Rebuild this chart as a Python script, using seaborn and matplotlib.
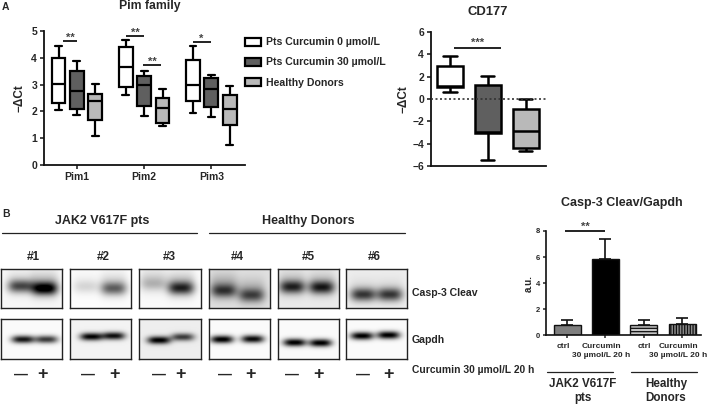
import numpy as np
import pandas as pd
import seaborn as sns
import matplotlib
matplotlib.use('Agg')
import matplotlib.pyplot as plt
from matplotlib.transforms import ScaledTranslation

# five number summaries: whisker, box, median, box, whisker
pim1_pts0 = [2.06, 2.31, 3.02, 4.00, 4.44]
pim1_pts30 = [1.88, 2.09, 2.76, 3.51, 3.89]
pim1_hd = [1.07, 1.68, 2.39, 2.65, 3.01]
pim2_pts0 = [2.61, 2.90, 3.67, 4.40, 4.68]
pim2_pts30 = [1.83, 2.19, 3.00, 3.31, 3.52]
pim2_hd = [1.47, 1.57, 2.11, 2.50, 2.85]
pim3_pts0 = [1.95, 2.39, 3.00, 3.93, 4.43]
pim3_pts30 = [1.80, 2.15, 2.84, 3.26, 3.37]
pim3_hd = [0.73, 1.49, 2.08, 2.60, 2.95]
cd177_pts0 = [0.66, 1.05, 1.15, 2.99, 3.82]
cd177_pts30 = [-5.43, -3.07, -3.00, 1.22, 2.03]
cd177_hd = [-4.63, -4.36, -2.84, -0.93, 0.03]

pim_genes = ['Pim1', 'Pim2', 'Pim3']
groups = ['Pts Curcumin 0 µmol/L', 'Pts Curcumin 30 µmol/L', 'Healthy Donors']
group_colors = ['white', '#5f5f5f', '#b9b9b9']

bar_names = ['a', 'b', 'c', 'd']
bar_labels = ['ctrl', 'Curcumin\n30 µmol/L 20 h', 'ctrl', 'Curcumin\n30 µmol/L 20 h']
bar_values = [0.79, 5.88, 0.79, 0.87]
bar_errors = [0.36, 1.54, 0.36, 0.43]
bar_colors = ['#7f7f7f', 'black', '#c4c4c4', '#8a8a8a']

# blot bands per patient: minus lane, plus lane
casp_x = [(.32, .72), (.26, .72), (.23, .68), (.24, .70), (.23, .72), (.28, .72)]
casp_y = [(.44, .50), (.45, .50), (.38, .49), (.56, .68), (.46, .47), (.66, .66)]
casp_peak = [(.62, .90), (.12, .50), (.17, .68), (.50, .48), (.68, .72), (.66, .66)]
casp_haze = [(.10, .24), (.04, .15), (.14, .22), (.24, .20), (.15, .15), (.08, .08)]
casp_bg = [.03, .01, .02, .12, .08, .07]
gapdh_x = [(.36, .75), (.35, .72), (.32, .71), (.21, .72), (.27, .70), (.26, .70)]
gapdh_y = [(.51, .51), (.44, .42), (.53, .45), (.51, .50), (.59, .60), (.42, .40)]
gapdh_peak = [(.90, .75), (.95, .90), (.95, .70), (1.0, .95), (1.0, 1.0), (1.0, 1.0)]
gapdh_bg = [.02, .05, .07, .02, .02, .02]
patient_labels = ['#1', '#2', '#3', '#4', '#5', '#6']

W, H = 709, 404
plt.rcParams['hatch.linewidth'] = 0.9
sns.set_style('ticks')
plt.rcParams['font.family'] = ['Liberation Sans', 'DejaVu Sans']
plt.rcParams['font.weight'] = 'bold'
plt.rcParams['axes.labelweight'] = 'bold'
plt.rcParams['axes.titleweight'] = 'bold'
plt.rcParams['axes.edgecolor'] = '#111111'

fig = plt.figure(figsize=(W / 100, H / 100), dpi=100)


def px_axes(x0, y0, x1, y1, **kw):
    return fig.add_axes([x0 / W, 1 - y1 / H, (x1 - x0) / W, (y1 - y0) / H], **kw)


def long_table(rows, cats):
    out = []
    for cat, row in zip(cats, rows):
        for grp, vals in zip(groups, row):
            out.append(pd.DataFrame({'cat': cat, 'group': grp, 'val': vals}))
    return pd.concat(out, ignore_index=True)


def sig_bar(ax, x0, x1, y, stars, dy):
    ax.plot([x0, x1], [y, y], color='#111111', lw=1.3, solid_capstyle='butt', clip_on=False)
    ax.text((x0 + x1) / 2, y + dy, stars, ha='center', va='center', fontsize=8, color='#444444')


def style_boxes(ax):
    ax.tick_params(axis='both', width=1.2, length=3, labelsize=7.5, pad=2)
    for side in ['left', 'bottom']:
        ax.spines[side].set_linewidth(1.3)
    ax.set_xlabel('')


# Pim family
ax = px_axes(44, 31, 245, 165)
pim_data = long_table([[pim1_pts0, pim1_pts30, pim1_hd],
                       [pim2_pts0, pim2_pts30, pim2_hd],
                       [pim3_pts0, pim3_pts30, pim3_hd]], pim_genes)
sns.boxplot(data=pim_data, x='cat', y='val', hue='group', palette=group_colors, ax=ax, whis=(0, 100),
            width=0.82, gap=0.25, saturation=1, linecolor='black', linewidth=1.6, showfliers=False)
ax.set_xlim(-0.49, 2.5)
ax.set_ylim(0, 5)
ax.set_yticks(range(6))
ax.set_ylabel('−ΔCt', fontsize=8.5, labelpad=4)
style_boxes(ax)
sns.despine(ax=ax)
sns.move_legend(ax, 'upper left', bbox_to_anchor=(0.98, 0.985), frameon=False, title=None, fontsize=7.6,
                borderaxespad=0, borderpad=0.4, handlelength=1.45, handleheight=0.8, handletextpad=0.55,
                labelspacing=0.97)
sig_bar(ax, -0.21, 0.0, 4.64, '**', 0.12)
sig_bar(ax, 0.73, 1.0, 4.81, '**', 0.12)
sig_bar(ax, 0.99, 1.25, 3.73, '**', 0.12)
sig_bar(ax, 1.72, 1.99, 4.58, '*', 0.12)

# CD177
ax = px_axes(431, 32, 546, 166)
cd_data = long_table([[cd177_pts0, cd177_pts30, cd177_hd]], ['CD177'])
cd_data['cat'] = cd_data['group']
sns.boxplot(data=cd_data, x='cat', y='val', hue='cat', palette=group_colors, ax=ax, whis=(0, 100),
            width=0.69, saturation=1, linecolor='black', linewidth=1.8, showfliers=False, legend=False)
ax.axhline(0, color='#333333', lw=1.2, ls=(0, (1.2, 1.5)), zorder=3)
ax.set_xlim(-0.5, 2.53)
ax.set_ylim(-6, 6)
ax.set_yticks(range(-6, 7, 2))
ax.set_ylabel('−ΔCt', fontsize=8.5, labelpad=2)
style_boxes(ax)
ax.set_xticks([])
sns.despine(ax=ax)
sig_bar(ax, 0.1, 1.34, 4.6, '***', 0.45)

# Casp-3 bars
ax = px_axes(546, 231, 701, 335)
bar_table = pd.DataFrame({'name': bar_names, 'val': bar_values})
sns.barplot(data=bar_table, x='name', y='val', hue='name', palette=bar_colors, width=0.7, saturation=1,
            edgecolor='#111111', linewidth=1, ax=ax, legend=False, errorbar=None)
for patch, hatch in zip(ax.patches, ['', '', '-----', '||||||']):
    patch.set_hatch(hatch)
ax.errorbar(range(4), bar_values, yerr=[[0, 0, 0, 0], bar_errors], fmt='none', ecolor='#111111',
            elinewidth=1.2, capsize=4.5, capthick=1.2)
ax.set_xlim(-0.55, 3.49)
ax.set_ylim(0, 8)
ax.set_yticks(range(0, 9, 2))
ax.set_xticks(range(4))
ax.set_xticklabels(bar_labels, fontsize=6.0, linespacing=1.45)
ax.set_xlabel('')
ax.set_ylabel('a.u.', fontsize=7, labelpad=1)
ax.tick_params(axis='y', width=1.1, length=2.5, labelsize=5.5, pad=2)
ax.tick_params(axis='x', width=1.1, length=2.5, pad=3)
# the labels sit a little left of their ticks, the last one would run off the edge otherwise
for lab, shift in zip(ax.get_xticklabels(), [-4, -4, 0, -4]):
    lab.set_transform(lab.get_transform() + ScaledTranslation(shift / 100, 0, fig.dpi_scale_trans))
ax.spines['left'].set_linewidth(1.2)
ax.spines['bottom'].set_linewidth(1.2)
sns.despine(ax=ax)
sig_bar(ax, -0.05, 0.99, 8.0, '**', 0.35)

# blots
panel_left = [1, 70, 139, 209, 278, 346]
panel_right = [62, 131, 201, 270, 339, 407]


def blot(xs, ys, peaks, bg, shape, sx, sy, haze=None):
    yy, xx = np.mgrid[0:1:shape[0] * 1j, 0:1:shape[1] * 1j]
    grid = np.full(shape, float(bg))
    for i in range(2):
        grid += peaks[i] * np.exp(-(np.abs(xx - xs[i]) / sx) ** 3 - ((yy - ys[i]) / sy) ** 2)
        if haze is not None:
            grid += haze[i] * np.exp(-((xx - xs[i]) / (sx * 1.1)) ** 4 - ((yy - ys[i] + 0.12) / 0.32) ** 2)
    return np.clip(grid, 0, 1)


for i in range(6):
    for top, bottom, row in [(269, 308, 0), (319, 359, 1)]:
        bax = px_axes(panel_left[i], top, panel_right[i], bottom)
        nx, ny = (panel_right[i] - panel_left[i]), bottom - top
        if row == 0:
            grid = blot(casp_x[i], casp_y[i], casp_peak[i], casp_bg[i], (ny, nx), 0.21, 0.17, casp_haze[i])
        else:
            grid = blot(gapdh_x[i], gapdh_y[i], gapdh_peak[i], gapdh_bg[i], (ny, nx), 0.19, 0.10)
        sns.heatmap(grid, cmap='gray_r', vmin=0, vmax=1, cbar=False, ax=bax, xticklabels=False,
                    yticklabels=False, rasterized=True)
        for spine in bax.spines.values():
            spine.set_visible(True)
            spine.set_linewidth(1)
            spine.set_color('#222222')

# text and rules, in picture pixels
over = px_axes(0, 0, W, H, zorder=5)
over.set_xlim(0, W)
over.set_ylim(H, 0)
over.axis('off')
over.patch.set_alpha(0)

over.text(2, 7, 'A', fontsize=7.5, va='center')
over.text(2, 214, 'B', fontsize=7.5, va='center')
over.text(150, 6.5, 'Pim family', fontsize=8.8, ha='center', va='center')
over.text(488, 12, 'CD177', fontsize=9.4, ha='center', va='center')
over.text(622, 203, 'Casp-3 Cleav/Gapdh', fontsize=9, ha='center', va='center')
over.text(102, 221, 'JAK2 V617F pts', fontsize=9, ha='center', va='center')
over.text(308, 221, 'Healthy Donors', fontsize=9, ha='center', va='center')
for x0, x1, y in [(2, 197, 233), (209, 405, 233), (547, 613, 372), (631, 697, 372)]:
    over.plot([x0, x1], [y, y], color='#222222', lw=0.9)
for x, lab in zip([33, 103, 169, 237, 308, 374], patient_labels):
    over.text(x, 257, lab, fontsize=8.5, ha='center', va='center')
for x in [21, 88, 159, 225, 292, 363]:
    over.text(x, 375, '—', fontsize=10, ha='center', va='center')
for x in [42, 114, 180, 251, 318, 389]:
    over.text(x, 375, '+', fontsize=13, ha='center', va='center')
over.text(412, 293, 'Casp-3 Cleav', fontsize=7.6, va='center')
over.text(412, 340, 'Gapdh', fontsize=7.6, va='center')
over.text(412, 370, 'Curcumin 30 µmol/L 20 h', fontsize=7.4, va='center')
over.text(583, 391, 'JAK2 V617F\npts', fontsize=8.4, ha='center', va='center', linespacing=1.25)
over.text(666, 391, 'Healthy\nDonors', fontsize=8.4, ha='center', va='center', linespacing=1.25)

fig.savefig('out.png', dpi=100)
